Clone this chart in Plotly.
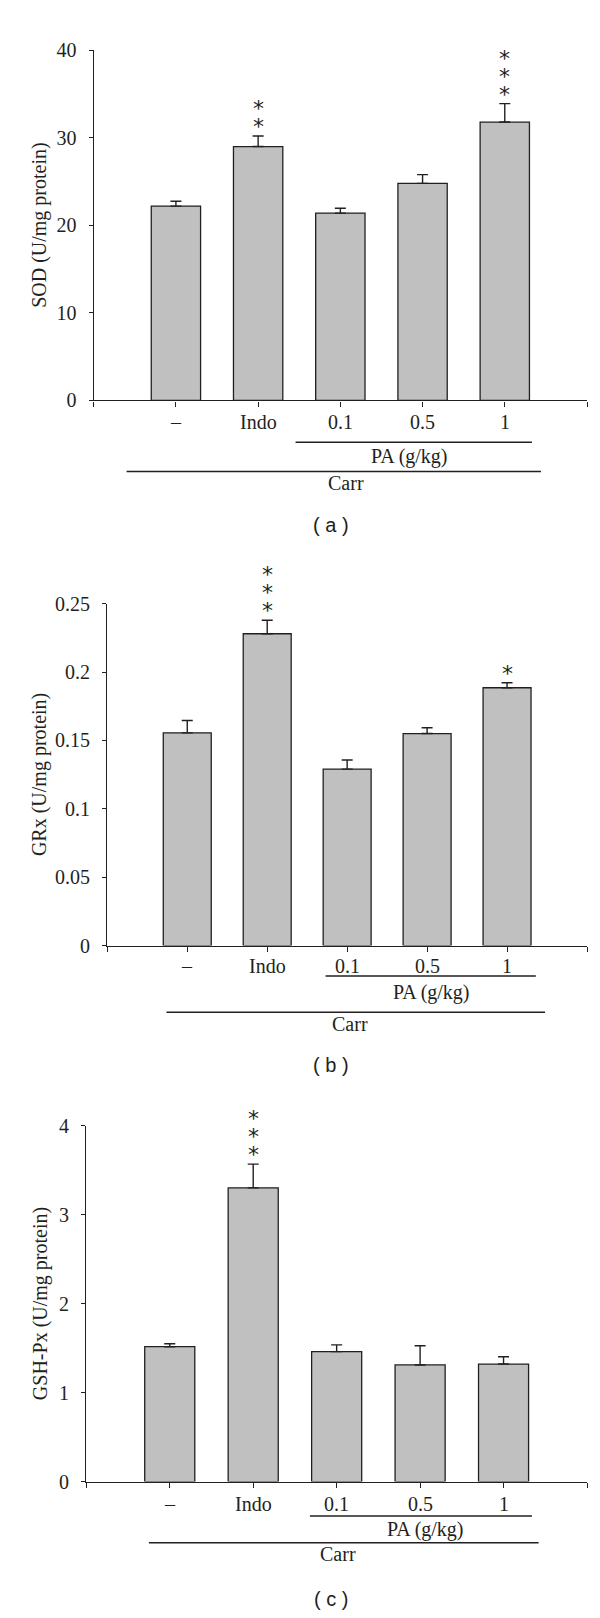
import plotly.graph_objects as go

# ---------------- data ----------------
categories = ["–", "Indo", "0.1", "0.5", "1"]
positions = [0, 1, 2, 3, 4]

sod_mean = [22.2, 29.0, 21.4, 24.8, 31.8]
sod_err = [0.55, 1.2, 0.56, 1.0, 2.1]
sod_stars = [0, 2, 0, 0, 3]

grx_mean = [0.1555, 0.228, 0.129, 0.155, 0.1885]
grx_err = [0.009, 0.0099, 0.0067, 0.0043, 0.0037]
grx_stars = [0, 3, 0, 0, 1]

gsh_mean = [1.515, 3.30, 1.46, 1.31, 1.32]
gsh_err = [0.034, 0.267, 0.076, 0.216, 0.083]
gsh_stars = [0, 3, 0, 0, 0]

W, H = 600, 1618
INK = "#231f20"
SERIF = "Liberation Serif"

def py(p):
    return 1 - p / H

panels = [
    dict(mean=sod_mean, err=sod_err, stars=sod_stars, title="SOD (U/mg protein)",
         x0=85.7, x1=579, ybot=386.7, ytop=31.7, rmax=40,
         yticks=[0, 10, 20, 30, 40], ytext=["0", "10", "20", "30", "40"],
         pa=(1.455, 4.33), carr=(-0.6, 4.44), pa_x=2.84, carr_x=2.07,
         off=dict(cat=22.3, pal=42.3, pat=56.6, carl=72.0, cart=83.3, lab=126.3),
         label="( a )", tx=31.5),
    dict(mean=grx_mean, err=grx_err, stars=grx_stars, title="GRx (U/mg protein)",
         x0=99.3, x1=579, ybot=939.3, ytop=592.7, rmax=0.25,
         yticks=[0, 0.05, 0.1, 0.15, 0.2, 0.25], ytext=["0", "0.05", "0.1", "0.15", "0.2", "0.25"],
         pa=(1.73, 4.36), carr=(-0.26, 4.475), pa_x=3.05, carr_x=2.04,
         off=dict(cat=20.7, pal=31.0, pat=48.0, carl=67.7, cart=80.0, lab=121.5),
         label="( b )", tx=31.5),
    dict(mean=gsh_mean, err=gsh_err, stars=gsh_stars, title="GSH-Px (U/mg protein)",
         x0=78.3, x1=579, ybot=1482.7, ytop=1121.8, rmax=4,
         yticks=[0, 1, 2, 3, 4], ytext=["0", "1", "2", "3", "4"],
         pa=(1.68, 4.34), carr=(-0.25, 4.42), pa_x=3.07, carr_x=2.02,
         off=dict(cat=23.1, pal=35.0, pat=49.0, carl=62.0, cart=73.6, lab=119.3),
         label="( c )", tx=32.6),
]

fig = go.Figure()
annotations = []
shapes = []
layout = {}

STAR = '<span style="font-size:22px">*</span>'

for n, p in enumerate(panels, start=1):
    xa = "x" if n == 1 else f"x{n}"
    ya = "y" if n == 1 else f"y{n}"
    fig.add_trace(go.Bar(
        x=positions, y=p["mean"], width=0.6, xaxis=xa, yaxis=ya,
        marker=dict(color="#c0c0c0", line=dict(color=INK, width=1.3)),
        error_y=dict(type="data", symmetric=False, array=p["err"],
                     arrayminus=[0] * len(p["err"]), color=INK,
                     thickness=1.4, width=5.5),
        hoverinfo="skip", showlegend=False,
    ))
    xkey = "xaxis" if n == 1 else f"xaxis{n}"
    ykey = "yaxis" if n == 1 else f"yaxis{n}"
    layout[xkey] = dict(
        domain=[p["x0"] / W, p["x1"] / W], range=[-1, 5], anchor=ya,
        showline=True, linecolor=INK, linewidth=1.4, showgrid=False, zeroline=False,
        ticks="outside", ticklen=5, tickwidth=1.3, tickcolor=INK,
        tickvals=[-1] + positions + [5], showticklabels=False,
    )
    layout[ykey] = dict(
        domain=[py(p["ybot"]), py(p["ytop"])], range=[0, p["rmax"]], anchor=xa,
        showline=True, linecolor=INK, linewidth=1.4, showgrid=False, zeroline=False,
        ticks="outside", ticklen=4, tickwidth=1.3, tickcolor=INK,
        tickvals=p["yticks"], ticktext=p["ytext"],
        tickfont=dict(family=SERIF, size=20, color=INK), ticklabelstandoff=8,
    )
    o = p["off"]
    yb = p["ybot"]
    # category labels under the axis
    for xv, lab in zip(positions, categories):
        annotations.append(dict(
            xref=xa, yref="paper", x=xv, y=py(yb + o["cat"]), text=lab, showarrow=False,
            font=dict(family=SERIF, size=20, color=INK), xanchor="center", yanchor="middle",
        ))
    # y title
    annotations.append(dict(
        xref="paper", yref="paper", x=p["tx"] / W, y=py((p["ybot"] + p["ytop"]) / 2),
        text=p["title"], textangle=-90, showarrow=False,
        font=dict(family=SERIF, size=20, color=INK), xanchor="center", yanchor="middle",
    ))
    # significance stars: one stacked text per bar
    for i, (m, e, s) in enumerate(zip(p["mean"], p["err"], p["stars"])):
        if s:
            annotations.append(dict(
                xref=xa, yref=ya, x=positions[i], y=m + e, text="<br>".join([STAR] * s),
                showarrow=False, font=dict(family="DejaVu Sans", size=14, color=INK),
                xanchor="center", yanchor="bottom", yshift=-5,
            ))
    # group lines
    shapes.append(dict(type="line", xref=xa, yref="paper", x0=p["pa"][0], x1=p["pa"][1],
                       y0=py(yb + o["pal"]), y1=py(yb + o["pal"]),
                       line=dict(color=INK, width=1.5)))
    shapes.append(dict(type="line", xref=xa, yref="paper", x0=p["carr"][0], x1=p["carr"][1],
                       y0=py(yb + o["carl"]), y1=py(yb + o["carl"]),
                       line=dict(color=INK, width=1.5)))
    annotations.append(dict(
        xref=xa, yref="paper", x=p["pa_x"], y=py(yb + o["pat"]), text="PA (g/kg)",
        showarrow=False, font=dict(family=SERIF, size=20, color=INK),
        xanchor="center", yanchor="middle"))
    annotations.append(dict(
        xref=xa, yref="paper", x=p["carr_x"], y=py(yb + o["cart"]), text="Carr",
        showarrow=False, font=dict(family=SERIF, size=20, color=INK),
        xanchor="center", yanchor="middle"))
    annotations.append(dict(
        xref="paper", yref="paper", x=323 / W, y=py(yb + o["lab"]), text=p["label"],
        showarrow=False, font=dict(family="Liberation Sans", size=20, color=INK),
        xanchor="center", yanchor="middle"))

fig.update_layout(
    width=W, height=H, margin=dict(l=0, r=0, t=0, b=0),
    paper_bgcolor="white", plot_bgcolor="white", showlegend=False,
    annotations=annotations, shapes=shapes, **layout,
)

fig.write_html("out.html")
